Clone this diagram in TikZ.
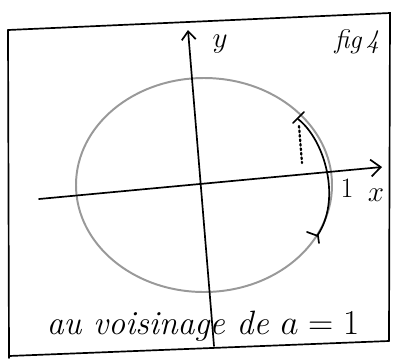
\documentclass[tikz,border=0pt]{standalone}
\usetikzlibrary{arrows.meta}
\begin{document}
\begin{tikzpicture}[x=0.025cm,y=-0.025cm,line cap=round,
  pen/.style={black,line width=1.2pt},
  hand/.style={font=\fontsize{20}{24}\selectfont\itshape}]
\useasboundingbox (0,0) rectangle (396,358);
% frame
\coordinate (tl) at (8,30);
\coordinate (tr) at (390,13);
\coordinate (br) at (389,341);
\coordinate (bl) at (9,356);
\draw[pen] (tl) -- (tr) -- (br);
\draw[pen] (tl) -- (9,358);
\draw[pen] (bl) -- (br);
% circle
\draw[gray!80,line width=1.4pt] (204,185) ellipse [x radius=128, y radius=107];
% axes
\coordinate (xa) at (39,199);
\coordinate (xb) at (382,167);
\coordinate (ya) at (214,346);
\coordinate (yb) at (188,30);
\draw[pen,-{Straight Barb[length=7pt,width=12pt]}] (xa) -- (xb);
\draw[pen,-{Straight Barb[length=6pt,width=10pt]}] (ya) -- (yb);
\node[hand] (ylab) at (220,44) {$y$};
\node[hand] (xlab) at (376,195) {$x$};
\node[font=\fontsize{20}{24}\selectfont] (one) at (347,188) {1};
\node[font=\fontsize{19}{22}\selectfont\itshape] (fig) at (357,42) {fig\,4};
% arc near a=1
\coordinate (p) at (298,119);
\coordinate (q) at (317,236);
\draw[pen] (p) .. controls (325,140) and (342,200) .. (q);
\draw[pen] (293,123) -- (304,112);
\draw[pen] (307,232) -- (318,236) -- (319,243);
\draw[pen,dotted,line width=1.6pt] (299,126) -- (302,163);
\node[font=\fontsize{24}{28}\selectfont\itshape] (caption) at (203,326) {au voisinage de $a=1$};
\end{tikzpicture}
\end{document}
